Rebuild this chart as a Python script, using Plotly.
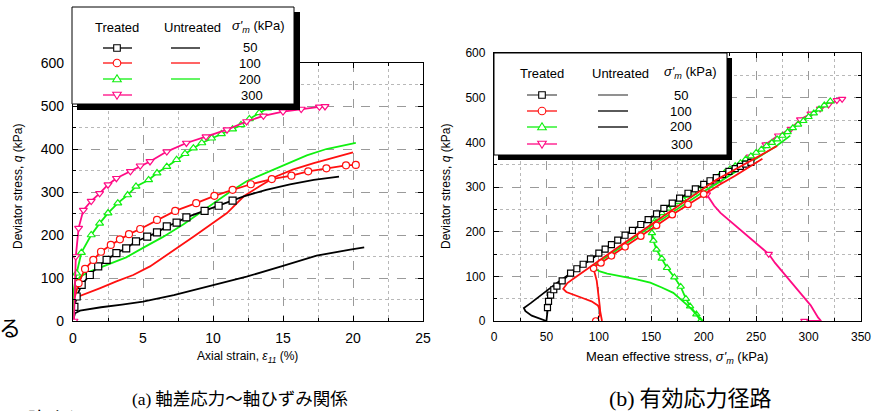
import plotly.graph_objects as go

W, H = 877, 411

# ---------------- data: (a) deviator stress vs axial strain ----------------
a_t50_x = [0, 0.1, 0.26, 0.62, 1.2, 1.8, 2.4, 3.1, 3.8, 4.5, 5.3, 6.0, 6.7, 7.4, 8.1, 9.4, 10.4, 11.4, 12.2, 13.8, 15.5, 17.2, 19.0]
a_t50_q = [0, 33, 57, 84, 107, 127, 142, 158, 169, 185, 196, 206, 220, 229, 241, 256, 268, 280, 290, 305, 318, 328, 336]
a_u50_x = [0, 0.14, 0.5, 2.0, 3.5, 5.0, 7.2, 10.0, 12.4, 15.0, 17.4, 19.8, 20.8]
a_u50_q = [0, 18, 24, 32, 38, 45, 60, 84, 103, 128, 152, 166, 171]
a_t100_x = [0, 0.07, 0.4, 0.86, 1.45, 2.0, 2.7, 3.35, 4.0, 4.8, 6.0, 7.3, 8.8, 10.1, 11.4, 12.7, 14.2, 15.6, 16.8, 18.1, 19.5, 20.2]
a_t100_q = [0, 49, 88, 121, 142, 161, 177, 190, 202, 214, 235, 256, 274, 291, 305, 318, 330, 338, 348, 355, 362, 363]
a_u100_x = [0, 0.07, 0.4, 1.0, 1.9, 3.1, 4.3, 5.5, 6.4, 7.4, 8.6, 9.8, 11.0, 12.2, 13.3, 14.5, 15.7, 17.2, 18.6, 20.0]
a_u100_q = [0, 41, 57, 64, 76, 92, 107, 127, 146, 169, 196, 224, 251, 290, 313, 336, 352, 367, 379, 392]
a_t200_x = [0, 0.05, 0.26, 0.6, 1.3, 1.9, 2.5, 3.2, 3.9, 4.5, 5.4, 6.0, 6.7, 7.4, 8.0, 8.6, 9.2, 9.9, 10.6, 11.4, 12.0, 12.6, 13.3, 13.9, 14.5]
a_t200_q = [0, 72, 111, 159, 200, 227, 251, 274, 293, 313, 328, 344, 359, 375, 389, 402, 414, 425, 435, 446, 456, 470, 484, 495, 499]
a_u200_x = [0, 0.05, 0.2, 0.5, 1.2, 2.4, 3.8, 5.0, 6.4, 7.9, 9.0, 10.0, 11.2, 12.4, 13.8, 15.2, 16.7, 18.1, 20.2]
a_u200_q = [0, 41, 88, 103, 115, 130, 148, 170, 195, 225, 250, 272, 300, 325, 345, 365, 385, 400, 414]
a_t300_x = [0, 0.07, 0.2, 0.4, 0.74, 1.3, 1.9, 2.5, 3.1, 4.1, 4.8, 5.5, 6.7, 8.1, 9.5, 11.0, 12.4, 13.6, 15.0, 16.3, 17.6, 18.0]
a_t300_q = [0, 0, 150, 216, 258, 279, 297, 317, 332, 348, 361, 371, 394, 414, 429, 445, 464, 477, 487, 493, 498, 499]

# ---------------- data: (b) effective stress paths ----------------
b_t50_p = [50, 50.5, 51, 52, 54, 57, 60, 65, 73, 79, 85, 92, 100, 106, 112, 118, 125, 132, 140, 147, 155, 162, 170, 177, 185, 192, 200, 206, 212, 218, 224, 230, 235, 240, 245]
b_t50_q = [0, 15, 30, 44, 58, 70, 78, 90, 107, 117, 127, 139, 152, 161, 171, 181, 192, 203, 216, 227, 240, 252, 264, 275, 286, 296, 306, 314, 321, 328, 335, 341, 346, 351, 355]
b_u50_p = [50, 44, 36, 30, 28.5, 35, 42, 48, 56, 64, 75, 88, 100, 112]
b_u50_q = [0, 5, 12, 22, 29, 40, 52, 64, 78, 92, 110, 130, 150, 170]
b_t100_p = [97, 99, 101, 101, 100, 99, 98, 96, 95, 97, 102, 112, 125, 140, 155, 170, 185, 200, 215, 230, 245, 256]
b_t100_q = [0, 5, 15, 30, 50, 70, 90, 108, 118, 124, 130, 146, 166, 190, 214, 238, 261, 284, 305, 325, 347, 363]
b_u100_p = [103, 102, 101, 99, 93, 85, 76, 69, 66, 70, 76, 85, 95, 105, 120, 135, 150, 165, 180, 195, 212, 225, 240, 255, 270]
b_u100_q = [0, 12, 25, 35, 44, 51, 58, 65, 72, 85, 95, 110, 128, 145, 168, 192, 216, 240, 263, 287, 316, 333, 352, 372, 392]
b_t200_p = [197, 193, 187, 183, 178, 172, 165, 160, 155, 152, 150.6, 151, 152, 156, 160, 166, 171, 176, 180, 185, 190, 195, 200, 205, 210, 215, 220, 225, 230, 235, 240, 245, 250, 255, 260, 265, 270, 275, 280, 285, 290, 295, 300, 305, 310, 315, 320.7]
b_t200_q = [0, 15, 33, 50, 77, 98, 119, 140, 160, 180, 197, 210, 219, 232, 242, 252, 260, 267, 273, 281, 288, 295, 302, 310, 317, 325, 332, 340, 347, 354, 362, 369, 377, 384, 392, 399, 407, 415, 423, 432, 440, 448, 457, 465, 474, 483, 492]
b_u200_p = [198.5, 195, 187, 171, 160, 149, 135, 120, 108, 101, 97, 96, 98, 104, 115, 130, 145, 160, 175, 190, 200, 212, 227, 242, 257, 270, 282.6]
b_u200_q = [0, 10, 30, 63, 75, 86, 94, 100, 106, 111, 116, 121, 128, 138, 155, 180, 204, 228, 252, 276, 290, 307, 329, 350, 372, 393, 415]
b_t300_p = [296, 312, 309, 302, 293, 285, 279, 268, 262, 257, 246, 235, 225, 216, 210, 206, 203, 206, 210, 216, 230, 244, 259, 271, 283, 292, 302, 311, 319, 327, 332]
b_t300_q = [0, 0, 8, 35, 60, 82, 100, 130, 150, 160, 180, 204, 222, 242, 258, 272, 283, 300, 308, 316, 342, 368, 395, 415, 430, 451, 464, 475, 484, 494, 497]

# legend labels
stress_levels = ["50", "100", "200", "300"]
col_heads = ["Treated", "Untreated", "<i>σ'</i><sub><i>m</i></sub> (kPa)"]

BLACK, RED, GREEN, MAG = "#000000", "#ff1010", "#10f010", "#ff0a84"
FONT = "Liberation Sans, Arial, sans-serif"
JP = "Noto Sans CJK JP"

fig = go.Figure()


def add(xs, ys, color, axes, symbol=None, idx=None, msize=7, lw=1.8):
    xa, ya = axes
    fig.add_trace(go.Scatter(x=xs, y=ys, mode="lines", line=dict(color=color, width=lw),
                             xaxis=xa, yaxis=ya, showlegend=False, hoverinfo="skip"))
    if symbol:
        sel = range(len(xs)) if idx is None else idx
        fig.add_trace(go.Scatter(x=[xs[i] for i in sel], y=[ys[i] for i in sel], mode="markers",
                                 marker=dict(symbol=symbol, size=msize, color="white",
                                             line=dict(color=color, width=1.2)),
                                 xaxis=xa, yaxis=ya, showlegend=False, hoverinfo="skip"))


A = ("x", "y")
B = ("x2", "y2")
add(a_u50_x, a_u50_q, BLACK, A)
add(a_u100_x, a_u100_q, RED, A)
add(a_u200_x, a_u200_q, GREEN, A)
add(a_t50_x, a_t50_q, BLACK, A, "square", idx=list(range(1, 18)))
add(a_t100_x, a_t100_q, RED, A, "circle", idx=list(range(2, 22)))
add(a_t200_x, a_t200_q, GREEN, A, "triangle-up", idx=list(range(2, 25)))
add(a_t300_x, a_t300_q, MAG, A, "triangle-down", idx=list(range(1, 22)))

add(b_t300_p, b_t300_q, MAG, B, "triangle-down", idx=[0, 8, 16, 19, 21, 22, 23, 24, 25, 26, 27, 28, 29, 30], msize=6.5)
add(b_t200_p, b_t200_q, GREEN, B, "triangle-up", msize=6.5)
add(b_u200_p, b_u200_q, GREEN, B)
add(b_u50_p, b_u50_q, BLACK, B)
add(b_t50_p, b_t50_q, BLACK, B, "square", idx=list(range(2, 35)), msize=6)
add(b_t100_p, b_t100_q, RED, B, "circle", idx=[0, 8, 10, 11, 12, 13, 14, 15, 16, 17], msize=6.5)
add(b_u100_p, b_u100_q, RED, B)


def X(p):
    return p / W


def Y(p):
    return 1 - p / H


axis_common = dict(showline=True, linecolor="black", linewidth=1.3, mirror="allticks",
                   ticks="inside", ticklen=5, tickcolor="black", zeroline=False,
                   showgrid=True, gridcolor="#9a9a9a", griddash="dash", gridwidth=1,
                   color="black", automargin=False)

fig.update_layout(
    width=W, height=H, margin=dict(l=0, r=0, t=0, b=0, pad=0, autoexpand=False),
    paper_bgcolor="white", plot_bgcolor="white", showlegend=False,
    font=dict(family=FONT, color="black"),
    xaxis=dict(domain=[X(73), X(423)], range=[0, 25], dtick=5, anchor="y",
               tickfont=dict(size=14), ticklabelstandoff=4,
               minor=dict(dtick=2.5, showgrid=True, gridcolor="#b8b8b8", griddash="dot", ticks="inside", ticklen=3),
               **axis_common),
    yaxis=dict(domain=[Y(321), Y(63)], range=[0, 600], dtick=100, anchor="x",
               tickfont=dict(size=14), ticklabelstandoff=5,
               minor=dict(dtick=50, showgrid=True, gridcolor="#b8b8b8", griddash="dot", ticks="inside", ticklen=3),
               **axis_common),
    xaxis2=dict(domain=[X(494), X(861)], range=[0, 350], dtick=50, anchor="y2",
                tickfont=dict(size=12), ticklabelstandoff=4,
                minor=dict(dtick=25, showgrid=True, gridcolor="#b8b8b8", griddash="dot", ticks="inside", ticklen=3),
                **axis_common),
    yaxis2=dict(domain=[Y(321), Y(53)], range=[0, 600], dtick=100, anchor="x2",
                tickfont=dict(size=12), ticklabelstandoff=5,
                minor=dict(dtick=50, showgrid=True, gridcolor="#b8b8b8", griddash="dot", ticks="inside", ticklen=3),
                **axis_common),
)

shapes = []
annots = []


def rect(x0, y0, x1, y1, fill, line_color=None, lw=0):
    shapes.append(dict(type="rect", xref="paper", yref="paper", x0=X(x0), x1=X(x1), y0=Y(y1), y1=Y(y0),
                       fillcolor=fill, line=dict(color=line_color or fill, width=lw), layer="above"))


def hline(x0, x1, y, color, lw=1.3):
    shapes.append(dict(type="line", xref="paper", yref="paper", x0=X(x0), x1=X(x1), y0=Y(y), y1=Y(y),
                       line=dict(color=color, width=lw), layer="above"))


def marker(kind, cx, cy, color, r=3.3):
    if kind == "square":
        shapes.append(dict(type="rect", xref="paper", yref="paper", x0=X(cx - r), x1=X(cx + r),
                           y0=Y(cy + r), y1=Y(cy - r), fillcolor="white", line=dict(color=color, width=1.1), layer="above"))
    elif kind == "circle":
        shapes.append(dict(type="circle", xref="paper", yref="paper", x0=X(cx - r - 0.5), x1=X(cx + r + 0.5),
                           y0=Y(cy + r + 0.5), y1=Y(cy - r - 0.5), fillcolor="white", line=dict(color=color, width=1.1), layer="above"))
    else:
        s = 1 if kind == "up" else -1
        pts = [(cx - r - 1, cy + s * (r - 0.5)), (cx + r + 1, cy + s * (r - 0.5)), (cx, cy - s * (r + 1))]
        path = "M {} {} L {} {} L {} {} Z".format(*[v for p in pts for v in (X(p[0]), Y(p[1]))])
        shapes.append(dict(type="path", xref="paper", yref="paper", path=path, fillcolor="white",
                           line=dict(color=color, width=1.1), layer="above"))


def text(s, x, y, size=13, family=FONT, xanchor="center", angle=0, yanchor="middle"):
    annots.append(dict(text=s, x=X(x), y=Y(y), xref="paper", yref="paper", showarrow=False,
                       xanchor=xanchor, yanchor=yanchor, textangle=angle,
                       font=dict(size=size, family=family, color="black")))


kinds = ["square", "circle", "up", "down"]

# left legend
rect(77, 12, 300, 110, "black")
rect(72, 7, 294, 104, "white", "black", 1)
text(col_heads[0], 117, 27)
text(col_heads[1], 192, 27)
text(col_heads[2], 258, 26)
rows_a = [48, 63, 79, 95]
colors_t = [BLACK, RED, GREEN, MAG]
colors_u_a = [BLACK, RED, GREEN]
for i, yy in enumerate(rows_a):
    hline(103, 132, yy, colors_t[i])
    marker(kinds[i], 117, yy, colors_t[i])
    if i < 3:
        hline(171, 200, yy, colors_u_a[i])
    text(stress_levels[i], 250 if i < 3 else 252, yy)

# right legend
rect(498, 58, 732, 160, "black")
rect(494, 53, 727, 155, "white", "black", 1)
text(col_heads[0], 542, 73)
text(col_heads[1], 620, 73)
text(col_heads[2], 690, 72)
rows_b = [95, 111, 127, 144]
colors_tb = ["#555555", RED, GREEN, MAG]
marker_cols_b = [BLACK, RED, GREEN, MAG]
colors_u_b = ["#555555", BLACK, BLACK]
for i, yy in enumerate(rows_b):
    hline(527, 557, yy, colors_tb[i])
    marker(kinds[i], 542, yy, marker_cols_b[i])
    if i < 3:
        hline(598, 628, yy, colors_u_b[i])
    text(stress_levels[i], 681 if i < 3 else 682, yy)

# axis titles
text("Axial strain, <i>ε</i><sub><i>11</i></sub> (%)", 248, 357, size=12)
text("Deviator stress, <i>q</i> (kPa)", 18, 187, size=12, angle=-90)
text("Mean effective stress, <i>σ'</i><sub><i>m</i></sub> (kPa)", 677, 357, size=13)
text("Deviator stress, <i>q</i> (kPa)", 446, 187, size=12, angle=-90)

# captions and surrounding page text
text("<span style='font-family:Liberation Serif'>(a)</span> 軸差応力～軸ひずみ関係", 130, 397, size=17.5, family=JP, xanchor="left")
text("<span style='font-family:Liberation Serif'>(b)</span> 有効応力径路", 607, 396, size=22, family=JP, xanchor="left")
text("る", 10, 326, size=22, family=JP)
text("強さと", 26, 402, size=19, family=JP, xanchor="left", yanchor="top")

fig.update_layout(shapes=shapes, annotations=annots)
fig.write_html("out.html", config={"displayModeBar": False},
               post_script="document.body.style.margin='0';document.body.style.overflow='hidden';")
